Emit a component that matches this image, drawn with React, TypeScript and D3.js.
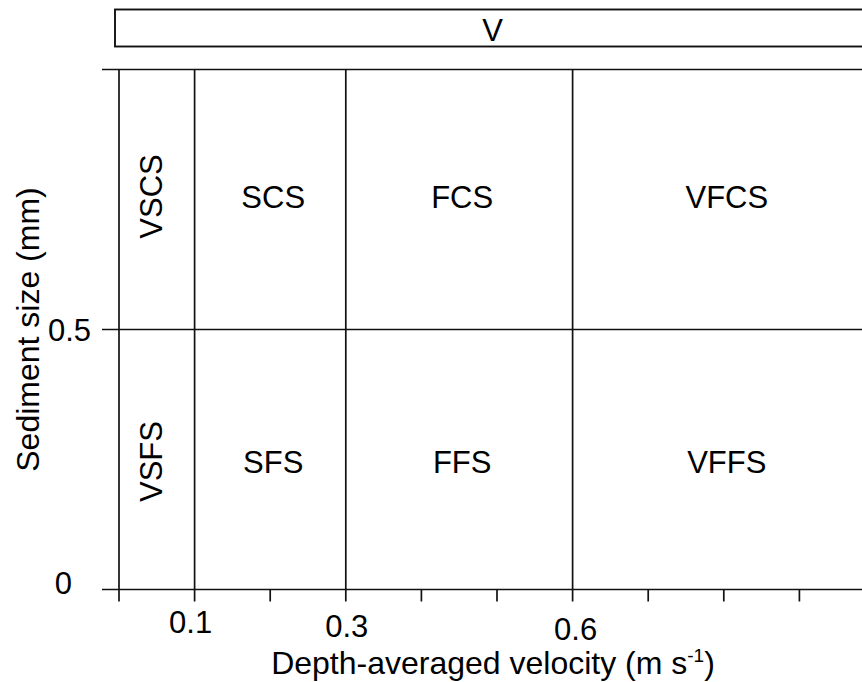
import React from "react";
import * as d3 from "d3";

// Velocity class boundaries (m s-1) and sediment size boundaries (mm)
const velocityBreaks = [0, 0.1, 0.3, 0.6, 1.0];
const sizeBreaks = [0, 0.5, 1.0];
const velocityTicks = [0, 0.1, 0.2, 0.3, 0.4, 0.5, 0.6, 0.7, 0.8, 0.9];
const velocityTickLabels = ["0.1", "0.3", "0.6"];
const sizeTickLabels = ["0", "0.5"];
// Class names per velocity band: coarse (top row) and fine (bottom row)
const coarseClasses = ["VSCS", "SCS", "FCS", "VFCS"];
const fineClasses = ["VSFS", "SFS", "FFS", "VFFS"];
const bannerLabel = "V";

const W = 862;
const H = 682;
const FONT = "'Liberation Sans', Arial, Helvetica, sans-serif";
const FS = 31;
const FS_TITLE = 32;
const INK = "#111";
const SW = 1.7;

export default function App() {
  const x = d3.scaleLinear().domain([0, 1]).range([119, 875]);
  const y = d3.scaleLinear().domain([0, 1]).range([589.5, 69.5]);

  const xMin = x(0);
  const xMax = x(1);
  const yBottom = y(0);
  const yTop = y(1);
  const tickLenX = 12;
  const tickLenY = 17;

  // staggered baselines of the velocity tick labels
  const xLabelShift: Record<string, [number, number]> = {
    "0.1": [-4, 633],
    "0.3": [1, 637],
    "0.6": [3, 639.5],
  };
  const yLabelShift: Record<string, [number, number]> = {
    "0": [72, -7],
    "0.5": [91, 0],
  };

  const bands = d3.pairs(velocityBreaks);
  const rows = d3.pairs(sizeBreaks);

  return (
    <svg
      width={W}
      height={H}
      style={{ position: "absolute", left: 0, top: 0, background: "#fff" }}
      fontFamily={FONT}
    >
      <rect x={0} y={0} width={W} height={H} fill="#fff" />

      {/* banner strip */}
      <rect
        x={xMin - 4}
        y={9.5}
        width={x(1) - 5 - (xMin - 4)}
        height={37}
        fill="none"
        stroke={INK}
        strokeWidth={1.9}
      />
      <text
        x={(xMin - 4 + x(1) - 5) / 2}
        y={41}
        fontSize={FS}
        textAnchor="middle"
        fill="#000"
      >
        {bannerLabel}
      </text>

      {/* horizontal size boundaries, extending left as y ticks */}
      {sizeBreaks.map((s) => (
        <line
          key={"h" + s}
          x1={xMin - tickLenY}
          x2={xMax}
          y1={y(s)}
          y2={y(s)}
          stroke={INK}
          strokeWidth={SW}
        />
      ))}

      {/* velocity boundaries, extending below as x ticks */}
      {velocityBreaks
        .filter((v) => v < 1)
        .map((v) => (
          <line
            key={"v" + v}
            x1={x(v)}
            x2={x(v)}
            y1={yTop}
            y2={yBottom + tickLenX}
            stroke={INK}
            strokeWidth={SW}
          />
        ))}

      {/* remaining x ticks */}
      {velocityTicks
        .filter((v) => !velocityBreaks.includes(v))
        .map((v) => (
          <line
            key={"t" + v}
            x1={x(v)}
            x2={x(v)}
            y1={yBottom}
            y2={yBottom + tickLenX}
            stroke={INK}
            strokeWidth={SW}
          />
        ))}

      {/* x tick labels */}
      {velocityTickLabels.map((l) => {
        const [dx, by] = xLabelShift[l];
        return (
          <text
            key={"xl" + l}
            x={x(+l) + dx}
            y={by}
            fontSize={FS}
            textAnchor="middle"
            fill="#000"
          >
            {l}
          </text>
        );
      })}

      {/* y tick labels */}
      {sizeTickLabels.map((l) => {
        const [rx, dy] = yLabelShift[l];
        return (
          <text
            key={"yl" + l}
            x={rx}
            y={y(+l) + dy + FS * 0.358}
            fontSize={FS}
            textAnchor="end"
            fill="#000"
          >
            {l}
          </text>
        );
      })}

      {/* class labels */}
      {rows.map(([s0, s1], ri) => {
        const names = ri === 0 ? fineClasses : coarseClasses;
        const cy = (y(s0) + y(s1)) / 2 + (ri === 0 ? 2 : -3);
        return bands.map(([v0, v1], bi) => {
          const cx = (x(v0) + x(v1)) / 2;
          if (bi === 0) {
            const bx = cx - 6 + FS * 0.358;
            return (
              <text
                key={names[bi]}
                transform={`translate(${bx},${cy}) rotate(-90)`}
                fontSize={FS}
                textAnchor="middle"
                fill="#000"
              >
                {names[bi]}
              </text>
            );
          }
          return (
            <text
              key={names[bi]}
              x={cx + 3}
              y={cy + FS * 0.358}
              fontSize={FS}
              textAnchor="middle"
              fill="#000"
            >
              {names[bi]}
            </text>
          );
        });
      })}

      {/* axis titles */}
      <text x={493} y={674} fontSize={FS_TITLE} textAnchor="middle" fill="#000">
        Depth-averaged velocity (m s
        <tspan fontSize={19} dy={-12}>
          -1
        </tspan>
        <tspan dy={12}>)</tspan>
      </text>
      <text
        transform={`translate(39,${(yTop + yBottom) / 2}) rotate(-90)`}
        fontSize={FS_TITLE}
        textAnchor="middle"
        fill="#000"
      >
        Sediment size (mm)
      </text>
    </svg>
  );
}
